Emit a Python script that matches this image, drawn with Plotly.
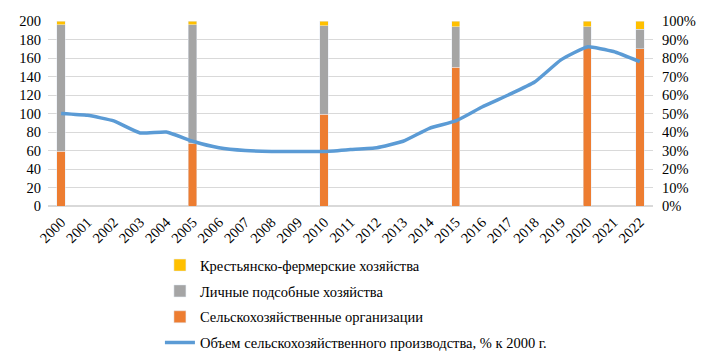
import plotly.graph_objects as go

years = [str(y) for y in range(2000, 2023)]
volume = [100, 98, 92, 79, 80, 70, 63, 60, 59, 59, 59, 61, 63, 70, 84, 92, 107, 120, 134, 158, 172, 167, 156]

bar_years = ["2000", "2005", "2010", "2015", "2020", "2022"]
org_share = [29.5, 34, 49.5, 75, 85.5, 85]
lph_share = [68.5, 64, 48, 22, 11.5, 10.5]
kfh_share = [2, 2, 2.5, 3, 3, 4.5]

names = ["Сельскохозяйственные организации", "Личные подсобные хозяйства",
         "Крестьянско-фермерские хозяйства", "Объем сельскохозяйственного производства, % к 2000 г."]

FONT = "Liberation Serif"
fig = go.Figure()
fig.add_trace(go.Bar(x=bar_years, y=org_share, name=names[0], marker_color="#ED7D31",
                     width=0.32, yaxis="y", legendrank=3, legendgroup="c"))
fig.add_trace(go.Bar(x=bar_years, y=lph_share, name=names[1], marker_color="#A5A5A5",
                     width=0.32, yaxis="y", legendrank=2, legendgroup="b"))
fig.add_trace(go.Bar(x=bar_years, y=kfh_share, name=names[2], marker_color="#FFC000",
                     width=0.32, yaxis="y", legendrank=1, legendgroup="a"))
fig.add_trace(go.Scatter(x=years, y=volume, name=names[3], mode="lines",
                         line=dict(color="#5B9BD5", width=3.5, shape="spline", smoothing=0.4),
                         yaxis="y2", legendrank=4, legendgroup="d"))

fig.update_layout(
    width=714, height=359,
    margin=dict(l=48, r=61, t=21, b=153),
    barmode="stack",
    plot_bgcolor="white", paper_bgcolor="white",
    font=dict(family=FONT, size=14.5, color="#000000"),
    xaxis=dict(type="category", categoryorder="array", categoryarray=years,
               tickangle=-45, tickfont=dict(size=14.5), showgrid=False, showline=False,
               ticks="", range=[-0.5, 22.5], automargin=False, ticklabelstandoff=4),
    yaxis=dict(side="right", range=[0, 100], dtick=10, ticksuffix="%",
               showgrid=True, gridcolor="#D9D9D9", gridwidth=1, zeroline=True,
               zerolinecolor="#D9D9D9", tickfont=dict(size=14.5), ticks="",
               ticklabelstandoff=8, automargin=False),
    yaxis2=dict(side="left", overlaying="y", range=[0, 200], dtick=20,
                showgrid=False, zeroline=False, tickfont=dict(size=14.5), ticks="",
                ticklabelstandoff=6, automargin=False),
    legend=dict(x=0.185, y=0.306, xref="paper", yref="container",
                xanchor="left", yanchor="top",
                tracegroupgap=4, font=dict(size=14.5), itemwidth=30),
    showlegend=True,
)

fig.write_html("out.html", config={"displayModeBar": False},
               post_script="document.body.style.margin='0';")
